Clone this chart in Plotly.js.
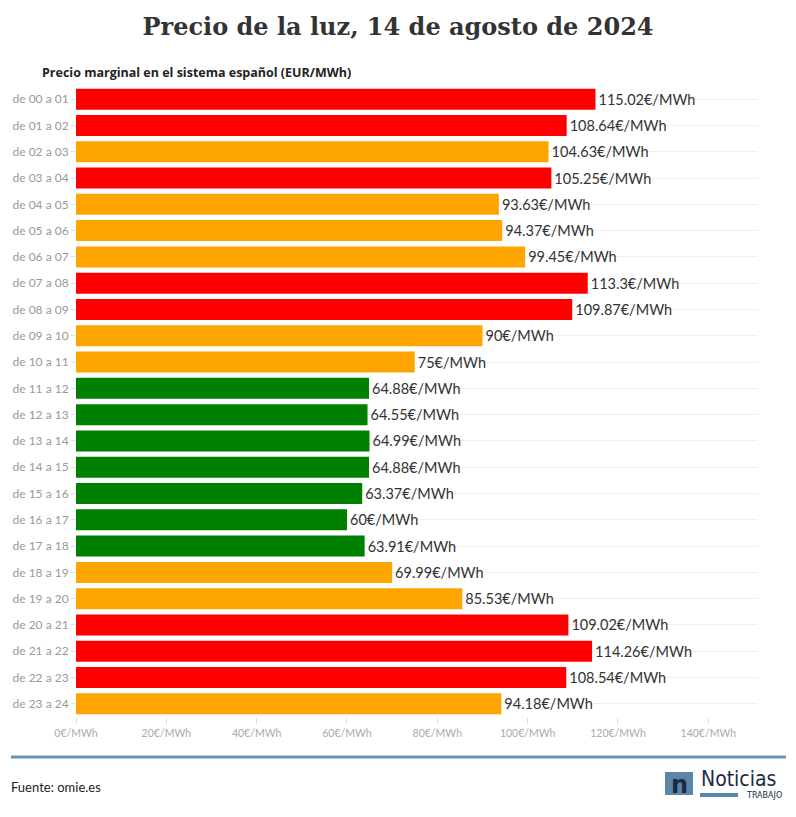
<!DOCTYPE html>
<html><head><meta charset="utf-8">
<script src="https://cdn.plot.ly/plotly-3.0.1.min.js"></script>
<style>body{margin:0;background:#fff}#c{width:796px;height:817px}</style>
</head><body><div id="c"></div>
<script>
const hours = ["de 00 a 01","de 01 a 02","de 02 a 03","de 03 a 04","de 04 a 05","de 05 a 06","de 06 a 07","de 07 a 08","de 08 a 09","de 09 a 10","de 10 a 11","de 11 a 12","de 12 a 13","de 13 a 14","de 14 a 15","de 15 a 16","de 16 a 17","de 17 a 18","de 18 a 19","de 19 a 20","de 20 a 21","de 21 a 22","de 22 a 23","de 23 a 24"];
const prices = [115.02,108.64,104.63,105.25,93.63,94.37,99.45,113.3,109.87,90,75,64.88,64.55,64.99,64.88,63.37,60,63.91,69.99,85.53,109.02,114.26,108.54,94.18];
const levels = ["alto","alto","medio","alto","medio","medio","medio","alto","alto","medio","medio","bajo","bajo","bajo","bajo","bajo","bajo","bajo","medio","medio","alto","alto","alto","medio"];
const levelColors = {alto:"#ff0000", medio:"#ffa500", bajo:"#008000"};
const xTicks = [0,20,40,60,80,100,120,140];
const xTickLabels = xTicks.map(v => v + "€/MWh");

const trace = {
  type: "bar", orientation: "h",
  x: prices, y: hours,
  marker: {color: levels.map(l => levelColors[l]), line: {width: 0}},
  text: prices.map(v => v + "€/MWh"),
  textposition: "outside",
  cliponaxis: false,
  textfont: {family: "Lato, 'Open Sans', sans-serif", size: 14.5, color: "#333"},
  hoverinfo: "none"
};

const layout = {
  width: 796, height: 817,
  margin: {l: 76, r: 38, t: 86, b: 100},
  paper_bgcolor: "#fff", plot_bgcolor: "#fff",
  showlegend: false,
  bargap: 0.2,
  title: {text: "<b>Precio de la luz, 14 de agosto de 2024</b>", x: 0.5, xanchor: "center", y: 0.967, yanchor: "middle",
          font: {family: "'DejaVu Serif', serif", size: 24, color: "#333"}},
  xaxis: {range: [0, 151], tickvals: xTicks, ticktext: xTickLabels, showgrid: false, zeroline: false,
          ticks: "outside", ticklen: 6, tickcolor: "#ddd", showline: false,
          tickfont: {family: "Lato, 'Open Sans', sans-serif", size: 10.5, color: "#aaa"}},
  yaxis: {autorange: "reversed", showgrid: true, gridcolor: "#eee", gridwidth: 1,
          ticks: "outside", ticklen: 4, tickcolor: "#ddd",
          tickfont: {family: "Lato, 'Open Sans', sans-serif", size: 12, color: "#999"}},
  shapes: [
    {type: "line", xref: "paper", yref: "paper", x0: -0.0953, x1: 1.041, y0: -0.0634, y1: -0.0634, line: {color: "#6a92b0", width: 3}},
    {type: "rect", xref: "paper", yref: "paper", x0: 0.8636, x1: 0.9047, y0: -0.0872, y1: -0.1236, fillcolor: "#5a86aa", line: {width: 0}},
    {type: "rect", xref: "paper", yref: "paper", x0: 0.915, x1: 0.9707, y0: -0.1204, y1: -0.1268, fillcolor: "#5a86aa", line: {width: 0}}
  ],
  annotations: [
    {text: "<b>Precio marginal en el sistema español (EUR/MWh)</b>", xref: "paper", yref: "paper", x: -0.0526, y: 1.022, xanchor: "left", yanchor: "middle", showarrow: false,
     font: {family: "'Open Sans', Lato, sans-serif", size: 12.5, color: "#222"}},
    {text: "Fuente: omie.es", xref: "paper", yref: "paper", x: -0.0982, y: -0.1115, xanchor: "left", yanchor: "middle", showarrow: false,
     font: {family: "Lato, 'Open Sans', sans-serif", size: 13, color: "#222"}},
    {text: "<b>n</b>", xref: "paper", yref: "paper", x: 0.8842, y: -0.1085, xanchor: "center", yanchor: "middle", showarrow: false,
     font: {family: "'DejaVu Sans', sans-serif", size: 24, color: "#1c2a48"}},
    {text: "Noticias", xref: "paper", yref: "paper", x: 0.913, y: -0.0985, xanchor: "left", yanchor: "middle", showarrow: false,
     font: {family: "'DejaVu Sans Condensed', 'DejaVu Sans', sans-serif", size: 21, color: "#1c2a48"}},
    {text: "TRABAJO", xref: "paper", yref: "paper", x: 1.038, y: -0.1245, xanchor: "right", yanchor: "middle", showarrow: false,
     font: {family: "'DejaVu Sans', sans-serif", size: 8, color: "#1c2a48"}}
  ]
};

Plotly.newPlot("c", [trace], layout, {displayModeBar: false, staticPlot: true});
</script></body></html>
